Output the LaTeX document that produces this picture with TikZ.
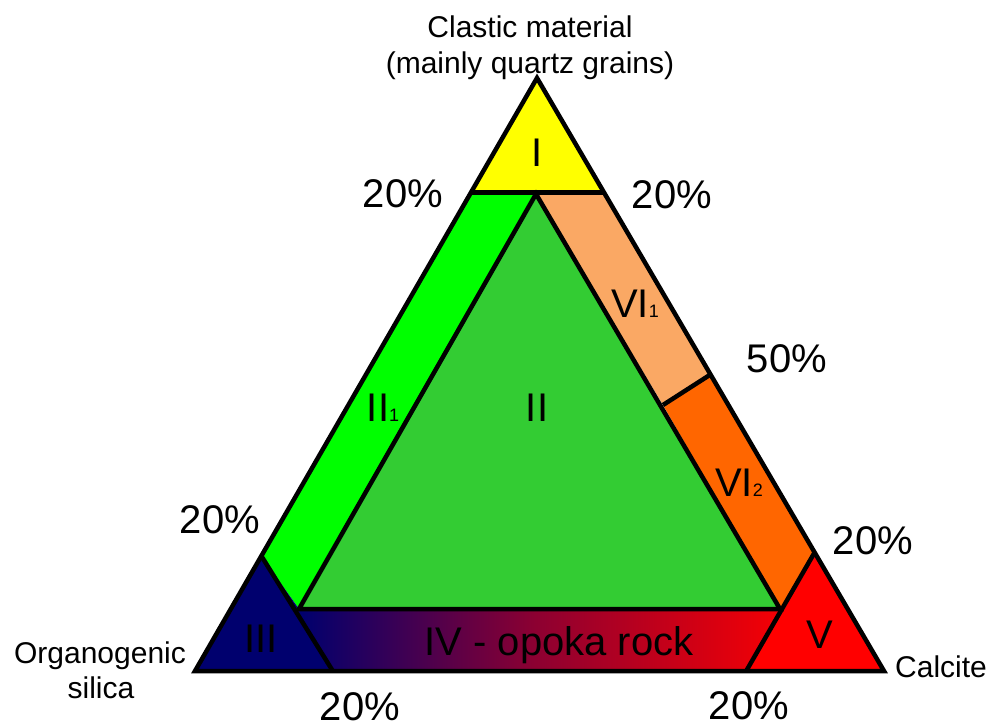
\documentclass[tikz,border=0pt]{standalone}
\usepackage{fontspec}
\setmainfont{Liberation Sans}
\usetikzlibrary{calc}
\definecolor{cyel}{RGB}{255,255,0}
\definecolor{cbgreen}{RGB}{0,255,0}
\definecolor{cgreen}{RGB}{51,204,51}
\definecolor{clorange}{RGB}{250,168,100}
\definecolor{corange}{RGB}{255,102,0}
\definecolor{cnavy}{RGB}{0,0,110}
\definecolor{cred}{RGB}{255,0,0}
\pgfdeclarehorizontalshading{ivshade}{100bp}{color(0bp)=(cnavy); color(34bp)=(cnavy); color(54bp)=(cnavy!45!cred); color(77bp)=(cred); color(100bp)=(cred)}
\newcommand{\sbs}[1]{{\fontsize{18}{18}\selectfont #1}}
\begin{document}
\begin{tikzpicture}[x=1pt,y=-1pt,
  lbl/.style={font=\fontsize{30}{35}\selectfont, anchor=base, inner sep=0pt},
  pct/.style={font=\fontsize{40}{40}\selectfont, anchor=base, inner sep=0pt},
  reg/.style={font=\fontsize{40}{40}\selectfont, anchor=base, inner sep=0pt},
  edgeline/.style={line width=4.5pt, line join=miter}]
\useasboundingbox (0,0) rectangle (992,727);
% outer triangle
\coordinate (A) at (537,78);
\coordinate (L) at (195,671);
\coordinate (R) at (884,671);
\coordinate (Y1) at ($(A)!0.193!(L)$);
\coordinate (Y2) at ($(A)!0.193!(R)$);
\coordinate (B3) at ($(A)!0.806!(L)$);
\coordinate (R3) at ($(A)!0.80!(R)$);
\coordinate (B4) at ($(L)!0.2!(R)$);
\coordinate (R4) at ($(L)!0.8!(R)$);
\coordinate (D2) at ($(A)!0.5!(R)$);
% inner triangle II
\coordinate (I2) at (536,194);
\coordinate (I3) at (299,609);
\coordinate (I4) at (780,609);
\coordinate (D1) at (663,405);
% fills
\fill[cyel] (A) -- (Y1) -- (Y2) -- cycle;
\fill[cbgreen] (Y1) -- (I2) -- (I3) -- (B3) -- cycle;
\fill[clorange] (I2) -- (Y2) -- (D2) -- (D1) -- cycle;
\fill[corange] (D1) -- (D2) -- (R3) -- (I4) -- cycle;
\fill[cgreen] (I2) -- (I3) -- (I4) -- cycle;
\path[shading=ivshade] (I3) -- (I4) -- (R4) -- (B4) -- (L) -- (B3) -- cycle;
\fill[cnavy] (B3) -- (L) -- (B4) -- cycle;
\fill[cred] (R3) -- (R4) -- (R) -- cycle;
% lines
\draw[edgeline] (A) -- (L) -- (R) -- cycle;
\draw[edgeline] (Y1) -- (Y2);
\draw[edgeline] (I2) -- (I3) -- (I4) -- cycle;
\draw[edgeline] (B3) -- (B4);
\draw[edgeline] (R3) -- (R4);
\draw[edgeline] (D1) -- (D2);
% corner labels
\node[lbl] (clast1) at (530,38) {Clastic material};
\node[lbl] (clast2) at (530,74) {(mainly quartz grains)};
\node[lbl] (org1) at (100,663) {Organogenic};
\node[lbl] (org2) at (101,698) {silica};
\node[lbl] (calc) at (941,677) {Calcite};
% percentages
\node[pct] (p1) at (403,208) {20\%};
\node[pct] (p2) at (672,209) {20\%};
\node[pct] (p3) at (787,372) {50\%};
\node[pct] (p4) at (220,533) {20\%};
\node[pct] (p5) at (873,554) {20\%};
\node[pct] (p6) at (360,720) {20\%};
\node[pct] (p7) at (749,719) {20\%};
% region labels
\node[reg] (rI) at (537,167) {I};
\node[reg] (rII) at (537,421) {II};
\node[reg] (rII1) at (383,421) {II\sbs{1}};
\node[reg] (rVI1) at (635,317) {VI\sbs{1}};
\node[reg] (rVI2) at (739,496) {VI\sbs{2}};
\node[reg] (rIII) at (261,652) {III};
\node[reg] (rIV) at (559,655) {IV - opoka rock};
\node[reg] (rV) at (820,648) {V};
\end{tikzpicture}
\end{document}
